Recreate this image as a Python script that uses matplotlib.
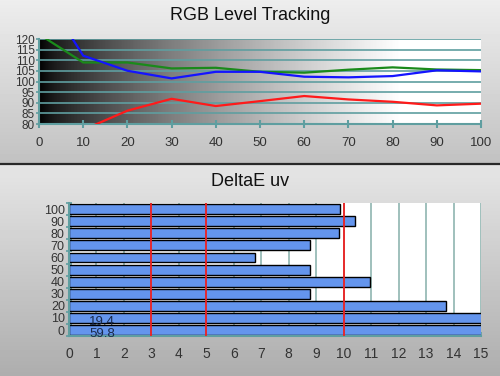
import numpy as np
import matplotlib
matplotlib.use('Agg')
import matplotlib.pyplot as plt

plt.rcParams['font.family'] = ['Liberation Sans', 'DejaVu Sans']

# RGB level tracking data
levels = [0, 10, 20, 30, 40, 50, 60, 70, 80, 90, 100]
red = [65, 77.3, 86.3, 91.9, 88.5, 90.8, 93.2, 91.6, 90.5, 88.8, 89.6]
green = [122.3, 109, 109, 106.2, 106.5, 104.6, 104.2, 105.6, 106.7, 105.7, 105.4]
blue = [145, 112.2, 105.1, 101.5, 104.6, 104.6, 102.3, 102, 102.6, 105.3, 104.8]

# DeltaE uv data
de_labels = ['0', '10', '20', '30', '40', '50', '60', '70', '80', '90', '100']
de_values = [59.8, 19.4, 13.71, 8.76, 10.96, 8.76, 6.76, 8.76, 9.82, 10.4, 9.85]
ref_lines = [3, 5, 10]

teal = '#5f9ea0'
txt = '#333333'

fig = plt.figure(figsize=(5, 3.76), dpi=100)

# panel backgrounds
bg = fig.add_axes([0, 0, 1, 1], zorder=-10)
bg.set_axis_off()
grad = np.linspace(0, 1, 376)[:, None]
top_col = 0.93 - 0.17 * (grad / (163 / 376))
bot_col = 0.90 - 0.22 * ((grad - 165 / 376) / (1 - 165 / 376))
col = np.where(grad < 163 / 376, top_col, bot_col)
col = np.clip(col, 0, 1)
bg.imshow(np.repeat(col, 2, axis=1), cmap='gray', vmin=0, vmax=1,
          aspect='auto', extent=[0, 1, 0, 1], origin='upper')
bg.axhline(1 - 164 / 376, color='#2a2a2a', lw=1.6)
bg.set_xlim(0, 1)
bg.set_ylim(0, 1)

fig.text(0.5, 0.960, 'RGB Level Tracking', ha='center', va='center',
         fontsize=13, color='#111111')
fig.text(0.5, 0.518, 'DeltaE uv', ha='center', va='center',
         fontsize=13, color='#111111')

# top chart
ax1 = fig.add_axes([0.078, 0.670, 0.884, 0.226])
xs = np.linspace(0, 1, 300)
shade = np.clip(xs ** 0.7 * 1.15, 0, 1)[None, :]
ax1.imshow(np.repeat(shade, 2, axis=0), cmap='gray', vmin=0, vmax=1,
           aspect='auto', extent=[0, 100, 80, 120], zorder=0)
for y in range(85, 125, 5):
    ax1.axhline(y, color=teal, lw=1.2, zorder=1)
ax1.plot(levels, green, color='#1a8a1a', lw=1.6, zorder=3)
ax1.plot(levels, blue, color='#1414ff', lw=1.6, zorder=3)
ax1.plot(levels, red, color='#ff1a1a', lw=1.6, zorder=3)
ax1.set_xlim(0, 100)
ax1.set_ylim(80, 120)
ax1.set_xticks(levels)
ax1.set_yticks(range(80, 125, 5))
for s in ['top', 'right']:
    ax1.spines[s].set_visible(False)
for s in ['left', 'bottom']:
    ax1.spines[s].set_color(teal)
    ax1.spines[s].set_linewidth(1.5)
ax1.tick_params(axis='x', direction='inout', length=6, width=1.5,
                color=teal, labelsize=9.5, labelcolor=txt, pad=6)
ax1.tick_params(axis='y', direction='out', length=2, width=1.2,
                color=teal, labelsize=8.5, labelcolor=txt, pad=1)

# bottom chart
ax2 = fig.add_axes([0.138, 0.106, 0.824, 0.354])
ax2.set_facecolor('white')
pos = np.arange(len(de_labels))
for x in range(1, 16):
    ax2.axvline(x, color='#8fb5b0', lw=1.2, zorder=1)
ax2.barh(pos, de_values, height=0.82, color='#6495ed',
         edgecolor='black', linewidth=1.0, zorder=2)
for x in ref_lines:
    ax2.axvline(x, color='#ee2020', lw=1.3, zorder=3)
ax2.text(1.2, 1 - 0.3, '19.4', ha='center', va='center', fontsize=9.5,
         color='#1a2a4a', zorder=4)
ax2.text(1.2, 0 - 0.35, '59.8', ha='center', va='center', fontsize=9.5,
         color='#1a2a4a', zorder=4)
ax2.set_xlim(0, 15)
ax2.set_ylim(-0.5, 10.5)
ax2.set_xticks(range(0, 16))
ax2.set_yticks(pos)
ax2.set_yticklabels(de_labels)
ax2.set_yticks(np.arange(-0.5, 11, 1), minor=True)
for s in ['top', 'right']:
    ax2.spines[s].set_visible(False)
for s in ['left', 'bottom']:
    ax2.spines[s].set_color(teal)
    ax2.spines[s].set_linewidth(1.5)
ax2.tick_params(axis='x', direction='in', length=3, width=1.2,
                color=teal, labelsize=10, labelcolor=txt, pad=8)
ax2.tick_params(axis='y', which='major', length=0, labelsize=9,
                labelcolor=txt, pad=3)
ax2.tick_params(axis='y', which='minor', direction='inout', length=4,
                width=1.2, color=teal)

fig.savefig('out.png', dpi=100)
